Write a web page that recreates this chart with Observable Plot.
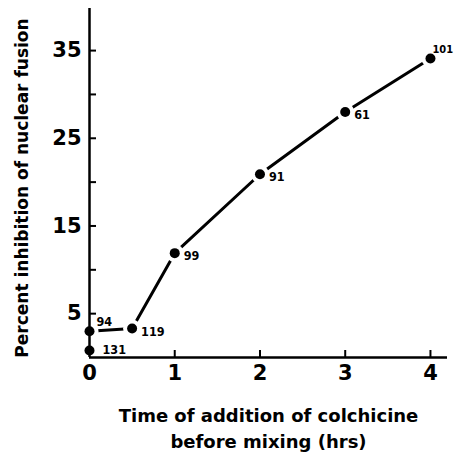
<!DOCTYPE html>
<html>
<head>
<meta charset="utf-8">
<script src="https://cdn.jsdelivr.net/npm/d3@7"></script>
<script src="https://cdn.jsdelivr.net/npm/@observablehq/plot@0.6"></script>
<style>
  html, body { margin: 0; padding: 0; background: #fff; }
</style>
</head>
<body>
<div id="chart"></div>
<script>
const times = [0, 0, 0.5, 1, 2, 3, 4];
const inhibition = [0.8, 3.0, 3.3, 11.9, 20.9, 28.0, 34.1];
const counts = ["131", "94", "119", "99", "91", "61", "101"];
const xTicks = [0, 1, 2, 3, 4];
const yTicks = [5, 10, 15, 20, 25, 30, 35];
const yTickLabels = [5, 15, 25, 35];
const xTitle = "Time of addition of colchicine\nbefore mixing (hrs)";
const yTitle = "Percent inhibition of nuclear fusion";

const data = times.map((t, i) => ({t, v: inhibition[i], n: counts[i]}));
const lineData = data.slice(1);
const font = "DejaVu Sans";
const small = "DejaVu Sans Condensed";
const labelStyle = {x: "t", y: "v", text: "n", textAnchor: "start", fontSize: 12.5, fontWeight: "bold", fontFamily: small};

const chart = Plot.plot({
  width: 454,
  height: 454,
  marginLeft: 89,
  marginRight: 7,
  marginTop: 8,
  marginBottom: 97,
  style: {fontFamily: font, background: "#fff", color: "#000", overflow: "visible"},
  x: {domain: [0, 4.2]},
  y: {domain: [0, 39.8]},
  marks: [
    Plot.line(lineData, {x: "t", y: "v", stroke: "#000", strokeWidth: 3, strokeLinecap: "butt"}),
    Plot.dot(data, {x: "t", y: "v", r: 9, fill: "#fff"}),
    Plot.ruleX([0], {stroke: "#000", strokeWidth: 2.5}),
    Plot.ruleY([0], {stroke: "#000", strokeWidth: 2.5}),
    Plot.axisX({ticks: xTicks.filter(d => d > 0), tickSize: -7, tickPadding: 0, tickFormat: () => "", strokeWidth: 2, label: null}),
    Plot.axisX({ticks: xTicks, tickSize: 0, tickPadding: 8, tickFormat: d3.format("d"), fontSize: 21, fontWeight: "bold", label: null}),
    Plot.axisY({ticks: yTicks, tickSize: -7, tickPadding: 0, tickFormat: () => "", strokeWidth: 2, label: null}),
    Plot.axisY({ticks: yTickLabels, tickSize: 0, tickPadding: 8, tickFormat: d3.format("d"), fontSize: 21, fontWeight: "bold", label: null}),
    Plot.dot(data, {x: "t", y: "v", r: 5, fill: "#000"}),
    Plot.text(data.filter(d => d.n === "94"), {...labelStyle, dx: 7, dy: -9}),
    Plot.text(data.filter(d => d.n === "101"), {...labelStyle, dx: 2, dy: -9, fontSize: 11}),
    Plot.text(data.filter(d => d.t > 0 && d.n !== "101"), {...labelStyle, dx: 9, dy: 3}),
    Plot.text(data.filter(d => d.n === "131"), {...labelStyle, dx: 13, dy: 0}),
    Plot.text([xTitle], {frameAnchor: "bottom", text: d => d, lineAnchor: "top", dy: 46, fontSize: 18, fontWeight: "bold", lineHeight: 1.45}),
    Plot.text([yTitle], {frameAnchor: "left", text: d => d, rotate: -90, textAnchor: "middle", dx: -67, dy: 5, fontSize: 17, fontWeight: "bold"})
  ]
});
document.getElementById("chart").appendChild(chart);
</script>
</body>
</html>
